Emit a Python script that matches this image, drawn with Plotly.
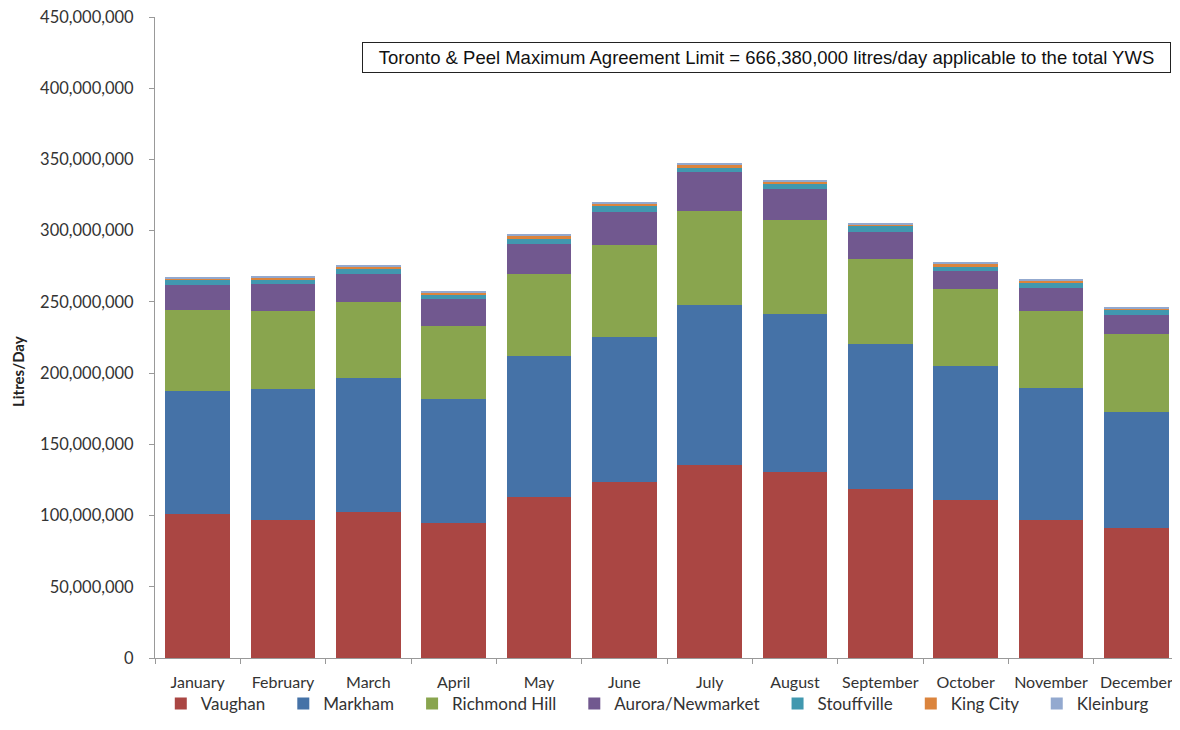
import plotly.graph_objects as go

months = ["January", "February", "March", "April", "May", "June", "July",
          "August", "September", "October", "November", "December"]

vaughan = [100.9, 96.9, 102.7, 95.0, 112.8, 123.6, 135.3, 130.8, 118.9, 110.9, 97.1, 91.3]
markham = [86.6, 91.8, 93.7, 86.7, 99.3, 102.0, 112.6, 110.8, 101.6, 94.4, 92.7, 81.2]
richmond_hill = [56.9, 55.2, 53.4, 51.5, 57.3, 64.4, 66.0, 66.0, 59.7, 53.8, 54.1, 55.0]
aurora_newmarket = [17.5, 18.5, 19.8, 18.9, 21.3, 23.4, 27.4, 21.7, 18.7, 12.6, 16.1, 13.4]
stouffville = [3.5, 3.6, 3.4, 2.8, 3.5, 4.2, 3.0, 3.5, 4.1, 3.1, 3.1, 3.1]
king_city = [1.0, 1.3, 1.8, 1.8, 2.3, 1.5, 2.0, 2.0, 1.5, 2.2, 2.2, 1.5]
kleinburg = [0.4, 0.5, 0.7, 0.8, 1.0, 0.6, 1.0, 1.0, 0.7, 0.9, 1.0, 1.2]

series_names = ["Vaughan", "Markham", "Richmond Hill", "Aurora/Newmarket",
                "Stouffville", "King City", "Kleinburg"]
series_values = [vaughan, markham, richmond_hill, aurora_newmarket,
                 stouffville, king_city, kleinburg]
series_colors = ["#AA4643", "#4572A7", "#89A54E", "#71588F",
                 "#4198AF", "#DB843D", "#93A9CF"]

y_ticks = [0, 50, 100, 150, 200, 250, 300, 350, 400, 450]

font_main = "Lato, 'Open Sans', sans-serif"
PAD = "\u00a0" * 3

fig = go.Figure()
for i, (name, vals, color) in enumerate(zip(series_names, series_values, series_colors)):
    label = name + (PAD if i < len(series_names) - 1 else "")
    fig.add_trace(go.Bar(
        x=months, y=[v * 1e6 for v in vals], name=label,
        marker=dict(color=color, line=dict(width=0)),
        hovertemplate=name + ": %{y:,.0f}<extra></extra>",
    ))

fig.update_layout(
    barmode="stack",
    bargap=0.24,
    width=1172, height=714,
    margin=dict(l=147, r=1, t=9, b=64),
    paper_bgcolor="white", plot_bgcolor="white",
    font=dict(family=font_main, size=17, color="#333333"),
    legend=dict(orientation="h", xref="container", x=0.554, xanchor="center",
                yref="container", y=0.0, yanchor="bottom",
                bgcolor="rgba(0,0,0,0)",
                font=dict(size=17, color="#333333"), traceorder="normal"),
    xaxis=dict(
        showline=True, linecolor="#999999", linewidth=1,
        ticks="outside", tickson="boundaries", ticklen=5, tickcolor="#999999",
        tickfont=dict(size=16, color="#333333"), showgrid=False,
        ticklabelstandoff=10, tickangle=0, ticklabeloverflow="allow",
        automargin=False,
    ),
    yaxis=dict(
        range=[0, 450e6],
        tickvals=[v * 1e6 for v in y_ticks],
        tickformat=",.0f",
        showline=True, linecolor="#999999", linewidth=1,
        ticks="outside", ticklen=5, tickcolor="#999999",
        tickfont=dict(size=16.5, color="#333333"), showgrid=False, zeroline=False,
        ticklabelstandoff=12, automargin=False, ticklabeloverflow="allow",
    ),
    annotations=[
        dict(
            text="Toronto & Peel Maximum Agreement Limit = 666,380,000 litres/day applicable to the total YWS",
            xref="paper", yref="paper", x=0.597, y=(641 - 40.5) / 641, xanchor="center", yanchor="middle",
            showarrow=False, width=801, height=23,
            font=dict(family="'Liberation Sans', Arial, sans-serif", size=18.5, color="#111111"),
            bordercolor="#222222", borderwidth=1, borderpad=3, bgcolor="white",
        ),
        dict(
            text="<b>Litres/Day</b>", xref="paper", yref="paper",
            x=-137 / 1024, y=(650 - 364) / 641, xanchor="center", yanchor="middle",
            textangle=-90, showarrow=False,
            font=dict(family=font_main, size=15, color="#222222"),
        ),
    ],
)

fig.write_html("out.html")
